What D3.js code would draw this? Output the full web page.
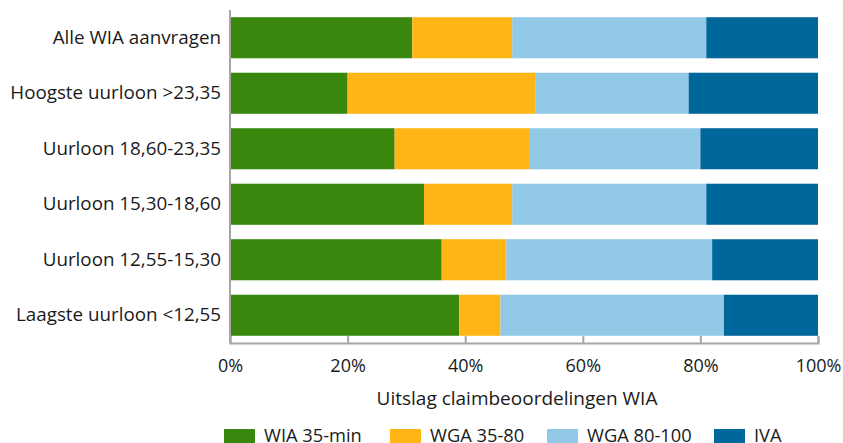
<!DOCTYPE html>
<html>
<head>
<meta charset="utf-8">
<script src="https://cdn.jsdelivr.net/npm/d3@7"></script>
<style>
  body { margin: 0; background: #fff; }
  text { font-family: "Open Sans", sans-serif; fill: #1a1a1a; }
</style>
</head>
<body>
<svg width="843" height="443"></svg>
<script>
const categories = [
  'Alle WIA aanvragen',
  'Hoogste uurloon >23,35',
  'Uurloon 18,60-23,35',
  'Uurloon 15,30-18,60',
  'Uurloon 12,55-15,30',
  'Laagste uurloon <12,55'
];
const seriesNames = ['WIA 35-min', 'WGA 35-80', 'WGA 80-100', 'IVA'];
const wia35min = [31, 20, 28, 33, 36, 39];
const wga3580 = [17, 32, 23, 15, 11, 7];
const wga80100 = [33, 26, 29, 33, 35, 38];
const iva = [19, 22, 20, 19, 18, 16];
const tickValues = [0, 20, 40, 60, 80, 100];
const colors = ['#3a870e', '#ffb515', '#91c9e6', '#00679a'];

const svg = d3.select('svg');
const plotLeft = 230, plotRight = 818, plotTop = 10, plotBottom = 343;

const rows = categories.map((c, i) => ({
  cat: c,
  'WIA 35-min': wia35min[i],
  'WGA 35-80': wga3580[i],
  'WGA 80-100': wga80100[i],
  'IVA': iva[i]
}));

const x = d3.scaleLinear().domain([0, 100]).range([plotLeft, plotRight]);
const y = d3.scaleBand().domain(categories).range([plotTop, plotBottom])
  .paddingInner(0.26).paddingOuter(0.13);
const color = d3.scaleOrdinal().domain(seriesNames).range(colors);

const stacked = d3.stack().keys(seriesNames)(rows);

svg.append('g')
  .selectAll('g')
  .data(stacked)
  .join('g')
    .attr('fill', d => color(d.key))
  .selectAll('rect')
  .data(d => d)
  .join('rect')
    .attr('x', d => x(d[0]))
    .attr('y', d => y(d.data.cat))
    .attr('width', d => x(d[1]) - x(d[0]))
    .attr('height', y.bandwidth());

// axes
const xAxis = svg.append('g')
  .attr('transform', `translate(0,${plotBottom})`)
  .call(d3.axisBottom(x).tickValues(tickValues).tickFormat(d => d + '%').tickSizeInner(-7).tickSizeOuter(-7).tickPadding(16));
xAxis.select('.domain').attr('stroke', '#a6a6a6').attr('stroke-width', 2);
xAxis.selectAll('.tick line').attr('stroke', '#a6a6a6').attr('stroke-width', 2);
xAxis.selectAll('.tick text').attr('font-size', 18).attr('fill', '#1a1a1a')
  .style('font-family', '"Open Sans", sans-serif');

const yAxis = svg.append('g')
  .attr('transform', `translate(${plotLeft},0)`)
  .call(d3.axisLeft(y).tickSize(0).tickPadding(9));
yAxis.select('.domain').attr('stroke', '#a6a6a6').attr('stroke-width', 2)
  .attr('d', `M0,${plotTop}V${plotBottom}`);
yAxis.selectAll('.tick text').attr('font-size', 18.8).attr('fill', '#1a1a1a')
  .style('font-family', '"Open Sans", sans-serif');

svg.append('text')
  .attr('x', 517)
  .attr('y', 405)
  .attr('text-anchor', 'middle')
  .attr('font-size', 19)
  .text('Uitslag claimbeoordelingen WIA');

// legend
const legendX = [224, 390, 547, 714];
const legend = svg.append('g').selectAll('g')
  .data(seriesNames)
  .join('g')
    .attr('transform', (d, i) => `translate(${legendX[i]},429)`);
legend.append('rect')
  .attr('width', 31).attr('height', 16)
  .attr('fill', d => color(d));
legend.append('text')
  .attr('x', 40).attr('y', 13)
  .attr('font-size', 18.3)
  .text(d => d);
</script>
</body>
</html>
